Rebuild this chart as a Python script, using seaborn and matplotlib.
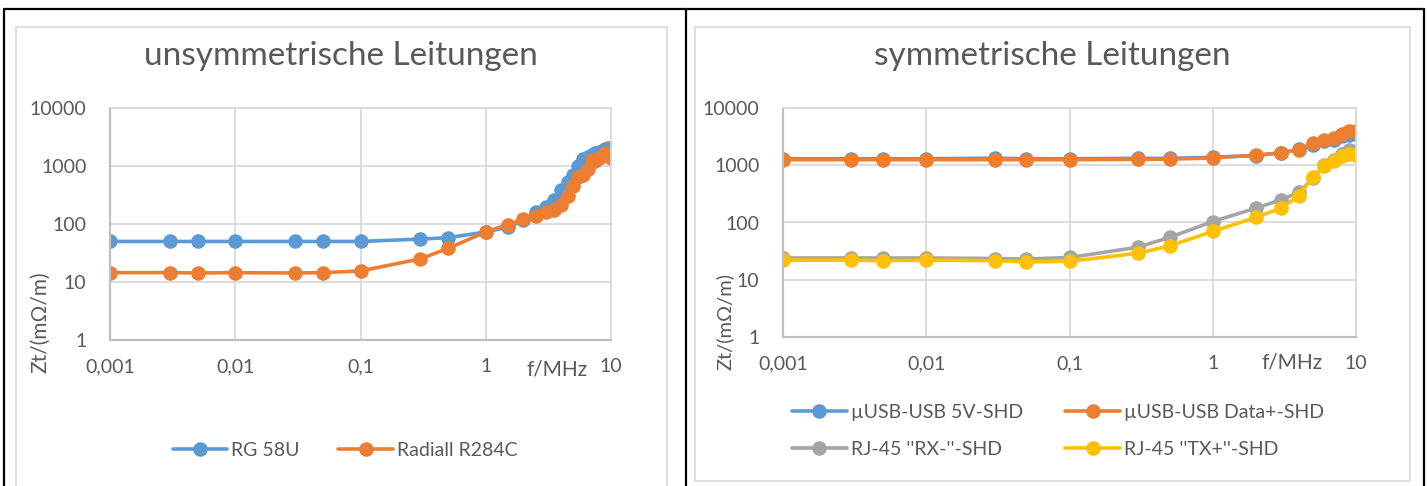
import numpy as np
import pandas as pd
import matplotlib
matplotlib.use("Agg")
import matplotlib.pyplot as plt
import seaborn as sns
from matplotlib.lines import Line2D

# ---------------- data ----------------
freq_left = [0.001, 0.003, 0.005, 0.01, 0.03, 0.05, 0.1, 0.3, 0.5, 1,
             1.5, 2, 2.5, 3, 3.5, 4, 4.5, 5, 5.5, 6, 6.5, 7, 7.5, 8, 8.5, 9, 9.5, 10]
rg58u = [50, 50, 50, 50, 50, 50, 50, 55, 58, 73,
         88, 115, 160, 200, 255, 380, 520, 690, 1000, 1300, 1450, 1550, 1650, 1750, 1850, 1950, 2050, 2050]
radiall = [14.5, 14.5, 14.3, 14.5, 14.3, 14.5, 15.5, 25, 38, 73,
           98, 120, 140, 162, 175, 210, 310, 460, 650, 700, 900, 1250, 1200, 1350, 1500, 1650, 1600, 1400]

freq_right = [0.001, 0.003, 0.005, 0.01, 0.03, 0.05, 0.1, 0.3, 0.5, 1,
              2, 3, 4, 5, 6, 7, 8, 9, 10]
usb_5v = [1300, 1300, 1300, 1300, 1330, 1300, 1300, 1320, 1320, 1380,
          1480, 1650, 1900, 2300, 2600, 2800, 3200, 3400, 3500]
usb_data = [1250, 1250, 1250, 1250, 1250, 1250, 1250, 1270, 1280, 1340,
            1500, 1650, 1880, 2450, 2800, 3000, 3500, 3900, 3950]
rj45_rx = [24, 24, 24, 24, 23.5, 23, 24.5, 37, 55, 104,
           178, 250, 335, 600, 1000, 1250, 1600, 1850, 1750]
rj45_tx = [22, 22, 21.5, 22, 21.5, 20.5, 21, 29, 39, 70,
           123, 178, 295, 630, 960, 1170, 1450, 1550, 1500]

labels_left = ["RG 58U", "Radiall R284C"]
labels_right = ["µUSB-USB 5V-SHD", "µUSB-USB Data+-SHD", "RJ-45 ''RX-''-SHD", "RJ-45 ''TX+''-SHD"]

x_ticks = [0.001, 0.01, 0.1, 1, 10]
x_ticklabels = ["0,001", "0,01", "0,1", "1", "10"]
y_ticks = [1, 10, 100, 1000, 10000]
y_ticklabels = ["1", "10", "100", "1000", "10000"]

title_left = "unsymmetrische Leitungen"
title_right = "symmetrische Leitungen"
ylabel = "Zt/(mΩ/m)"
xlabel = "f/MHz"

colors_left = ["#5B9BD5", "#ED7D31"]
colors_right = ["#5B9BD5", "#ED7D31", "#A5A5A5", "#FFC000"]

# ---------------- tables ----------------
df_left = pd.concat([
    pd.DataFrame({"f": freq_left, "Zt": rg58u, "series": labels_left[0]}),
    pd.DataFrame({"f": freq_left, "Zt": radiall, "series": labels_left[1]}),
], ignore_index=True)
df_right = pd.concat([
    pd.DataFrame({"f": freq_right, "Zt": v, "series": lab})
    for v, lab in zip([usb_5v, usb_data, rj45_rx, rj45_tx], labels_right)
], ignore_index=True)

sns.set_theme(style="white")
plt.rcParams["font.family"] = ["Lato", "DejaVu Sans"]

TXT = "#595959"
W, H = 1428, 486
fig = plt.figure(figsize=(W / 100, H / 100), dpi=100)
fig.patch.set_facecolor("white")


def fx(px):
    return px / W


def fy(py):
    return 1 - py / H


def frame_line(x0, y0, x1, y1, color, lw):
    fig.add_artist(Line2D([fx(x0), fx(x1)], [fy(y0), fy(y1)], color=color, lw=lw,
                          transform=fig.transFigure))


# chart area borders (light gray)
for (l, t, r, b) in [(16, 27, 667, 486), (695, 27, 1410, 481)]:
    frame_line(l, t, r, t, "#D9D9D9", 1.2)
    frame_line(l, t, l, b, "#D9D9D9", 1.2)
    frame_line(r, t, r, b, "#D9D9D9", 1.2)
frame_line(695, 481, 1410, 481, "#D9D9D9", 1.2)
# black cell borders
frame_line(4, 9, 1424, 9, "black", 1.6)
for xb in [4, 686, 1424]:
    frame_line(xb, 9, xb, 486, "black", 1.6)


def style_axes(ax):
    ax.set_xscale("log")
    ax.set_yscale("log")
    ax.set_xlim(0.001, 10)
    ax.set_ylim(1, 10000)
    ax.xaxis.set_major_locator(matplotlib.ticker.FixedLocator(x_ticks))
    ax.xaxis.set_major_formatter(matplotlib.ticker.FixedFormatter(x_ticklabels))
    ax.yaxis.set_major_locator(matplotlib.ticker.FixedLocator(y_ticks))
    ax.yaxis.set_major_formatter(matplotlib.ticker.FixedFormatter(y_ticklabels))
    ax.xaxis.set_minor_locator(matplotlib.ticker.NullLocator())
    ax.yaxis.set_minor_locator(matplotlib.ticker.NullLocator())
    ax.grid(True, which="major", color="#D9D9D9", lw=1.3)
    ax.set_axisbelow(True)
    ax.tick_params(axis="both", length=0, labelsize=14, labelcolor=TXT)
    ax.tick_params(axis="y", pad=17)
    ax.tick_params(axis="x", pad=13)
    for s in ["left", "bottom"]:
        ax.spines[s].set_color("#BFBFBF")
        ax.spines[s].set_linewidth(1.6)
    for s in ["top", "right"]:
        ax.spines[s].set_color("#D9D9D9")
        ax.spines[s].set_linewidth(1.3)
    ax.set_xlabel("")
    ax.set_ylabel("")
    ax.set_facecolor("white")


ax1 = fig.add_axes([fx(110), fy(340), fx(611) - fx(110), fy(108) - fy(340)])
sns.lineplot(data=df_left, x="f", y="Zt", hue="series", hue_order=labels_left,
             palette=colors_left, marker="o", markersize=10.5, markeredgewidth=0,
             linewidth=2.6, estimator=None, sort=False, legend=False, ax=ax1)
style_axes(ax1)

ax2 = fig.add_axes([fx(783), fy(337), fx(1356) - fx(783), fy(108) - fy(337)])
sns.lineplot(data=df_right, x="f", y="Zt", hue="series", hue_order=labels_right,
             palette=colors_right, marker="o", markersize=10.5, markeredgewidth=0,
             linewidth=2.6, estimator=None, sort=False, legend=False, ax=ax2)
style_axes(ax2)

# titles
fig.text(fx(341), fy(56), title_left, ha="center", va="center", fontsize=24,
         color=TXT, fontweight="normal")
fig.text(fx(1052), fy(56), title_right, ha="center", va="center", fontsize=24,
         color=TXT, fontweight="normal")

# axis labels
fig.text(fx(40), fy(322), ylabel, rotation=90, ha="center", va="center", fontsize=15, color=TXT)
fig.text(fx(725), fy(322), ylabel, rotation=90, ha="center", va="center", fontsize=14.5, color=TXT)
fig.text(fx(557), fy(369), xlabel, ha="center", va="center", fontsize=15, color=TXT)
fig.text(fx(1292), fy(362), xlabel, ha="center", va="center", fontsize=15, color=TXT)


def handles(colors):
    return [Line2D([], [], color=c, lw=2.6, marker="o", markersize=10.5, markeredgewidth=0)
            for c in colors]


leg1 = fig.legend(handles(colors_left), labels_left, loc="center",
                  bbox_to_anchor=(fx(345), fy(450)), ncol=2, frameon=False,
                  fontsize=14, handlelength=2.8, handletextpad=0.2, columnspacing=2.0)
for t in leg1.get_texts():
    t.set_color(TXT)

# column-major fill: order so rows read (5V, Data+) / (RX, TX)
order = [0, 2, 1, 3]
leg2 = fig.legend([handles(colors_right)[i] for i in order], [labels_right[i] for i in order],
                  loc="center", bbox_to_anchor=(fx(1058), fy(431)), ncol=2, frameon=False,
                  fontsize=14, handlelength=2.8, handletextpad=0.2, columnspacing=2.2,
                  labelspacing=1.0)
for t in leg2.get_texts():
    t.set_color(TXT)

fig.savefig("out.png", dpi=100, facecolor="white")
